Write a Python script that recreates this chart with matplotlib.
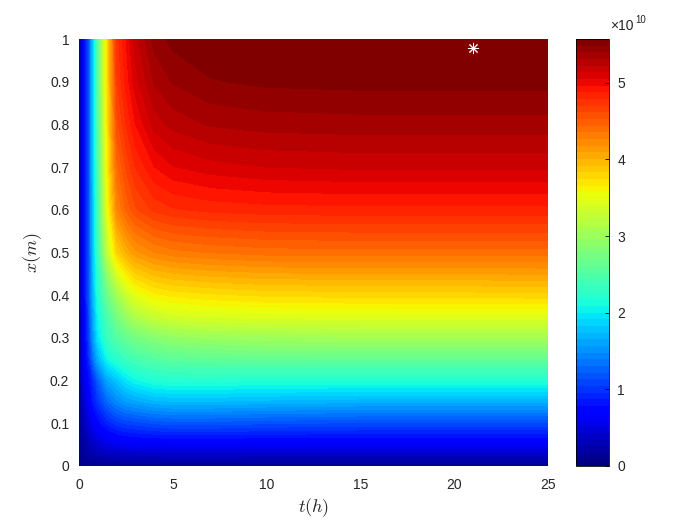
import numpy as np
import matplotlib
matplotlib.use('Agg')
import matplotlib.pyplot as plt

plt.rcParams['font.family'] = ['Liberation Sans', 'DejaVu Sans']
plt.rcParams['mathtext.fontset'] = 'cm'

# time (h) and depth (m) sample points
t_pts = [0, 0.25, 0.5, 0.75, 1, 1.5, 2, 2.5, 3, 4, 5, 7, 10, 15, 25]
x_pts = [0, 0.05, 0.1, 0.15, 0.2, 0.25, 0.3, 0.35, 0.4, 0.5, 0.6, 0.7, 0.8, 0.9, 1.0]

u_max = 5.57e10   # top of the colour scale

# level relative to u_max, one row per x value (bottom to top), columns follow t_pts
rel_levels = [
    [0.01, 0.015, 0.02, 0.02, 0.02, 0.02, 0.02, 0.02, 0.02, 0.02, 0.02, 0.02, 0.02, 0.02, 0.02],
    [0.02, 0.035, 0.05, 0.065, 0.075, 0.09, 0.10, 0.105, 0.108, 0.11, 0.112, 0.112, 0.11, 0.11, 0.11],
    [0.02, 0.05, 0.08, 0.11, 0.13, 0.16, 0.18, 0.19, 0.195, 0.205, 0.21, 0.21, 0.205, 0.20, 0.20],
    [0.02, 0.07, 0.11, 0.15, 0.18, 0.23, 0.26, 0.28, 0.29, 0.305, 0.31, 0.31, 0.305, 0.30, 0.30],
    [0.02, 0.09, 0.13, 0.17, 0.22, 0.29, 0.32, 0.35, 0.37, 0.39, 0.395, 0.395, 0.39, 0.39, 0.39],
    [0.02, 0.10, 0.16, 0.24, 0.30, 0.37, 0.40, 0.42, 0.435, 0.45, 0.46, 0.465, 0.47, 0.47, 0.47],
    [0.02, 0.11, 0.18, 0.28, 0.35, 0.42, 0.45, 0.47, 0.49, 0.51, 0.525, 0.535, 0.54, 0.545, 0.545],
    [0.02, 0.11, 0.19, 0.29, 0.37, 0.44, 0.49, 0.53, 0.56, 0.59, 0.605, 0.612, 0.617, 0.62, 0.62],
    [0.02, 0.12, 0.20, 0.31, 0.39, 0.48, 0.54, 0.59, 0.625, 0.65, 0.66, 0.668, 0.675, 0.678, 0.68],
    [0.02, 0.12, 0.20, 0.32, 0.42, 0.58, 0.68, 0.72, 0.745, 0.765, 0.775, 0.782, 0.788, 0.79, 0.79],
    [0.02, 0.12, 0.20, 0.32, 0.43, 0.63, 0.76, 0.80, 0.825, 0.848, 0.857, 0.864, 0.868, 0.87, 0.87],
    [0.02, 0.12, 0.20, 0.33, 0.44, 0.65, 0.79, 0.83, 0.86, 0.89, 0.905, 0.915, 0.922, 0.925, 0.925],
    [0.02, 0.12, 0.20, 0.33, 0.45, 0.66, 0.82, 0.86, 0.89, 0.928, 0.943, 0.955, 0.96, 0.962, 0.962],
    [0.02, 0.12, 0.20, 0.33, 0.45, 0.67, 0.84, 0.88, 0.915, 0.955, 0.97, 0.983, 0.988, 0.99, 0.99],
    [0.02, 0.12, 0.20, 0.33, 0.45, 0.67, 0.85, 0.89, 0.93, 0.975, 0.99, 0.998, 1.0, 1.0, 1.0],
]

# position of the maximum marked with a star
t_star = 21
x_star = 0.98

u = np.array(rel_levels) * u_max

fig = plt.figure(figsize=(7, 5.25), dpi=100)
ax = fig.add_axes([0.1129, 0.1124, 0.670, 0.8133])
cax = fig.add_axes([0.8229, 0.1124, 0.0471, 0.8133])

cmap = plt.get_cmap('jet', 64)
levels = np.linspace(0, u_max, 65)
cs = ax.contourf(t_pts, x_pts, u, levels=levels, cmap=cmap, vmin=0, vmax=u_max)
ax.plot(t_star, x_star, marker=(8, 2, 0), color='white', markersize=8, markeredgewidth=0.7)

ax.set_xlim(0, 25)
ax.set_ylim(0, 1)
ax.set_xticks([0, 5, 10, 15, 20, 25])
ax.set_yticks(np.arange(0, 1.01, 0.1))
ax.set_yticklabels(['0', '0.1', '0.2', '0.3', '0.4', '0.5', '0.6', '0.7', '0.8', '0.9', '1'])
ax.tick_params(axis='x', length=0, labelsize=10, labelcolor='#262626', pad=9)
ax.tick_params(axis='y', length=0, labelsize=10, labelcolor='#262626', pad=7)
for s in ax.spines.values():
    s.set_visible(False)
ax.set_xlabel('$t(h)$', fontsize=13, color='#262626', labelpad=3)
ax.set_ylabel('$x(m)$', fontsize=13, color='#262626', labelpad=4)

cb = fig.colorbar(cs, cax=cax, ticks=[0, 1e10, 2e10, 3e10, 4e10, 5e10])
cb.ax.set_yticklabels(['0', '1', '2', '3', '4', '5'])
cb.ax.tick_params(direction='in', length=3, width=0.6, labelsize=10, labelcolor='#262626', pad=6)
cb.outline.set_linewidth(0.6)

# exponent label above the colour bar
fig.text(0.872, 0.943, '×10', fontsize=10, color='#262626', ha='left', va='baseline')
fig.text(0.907, 0.957, '10', fontsize=7, color='#262626', ha='left', va='baseline')

fig.savefig('out.png', dpi=100)
